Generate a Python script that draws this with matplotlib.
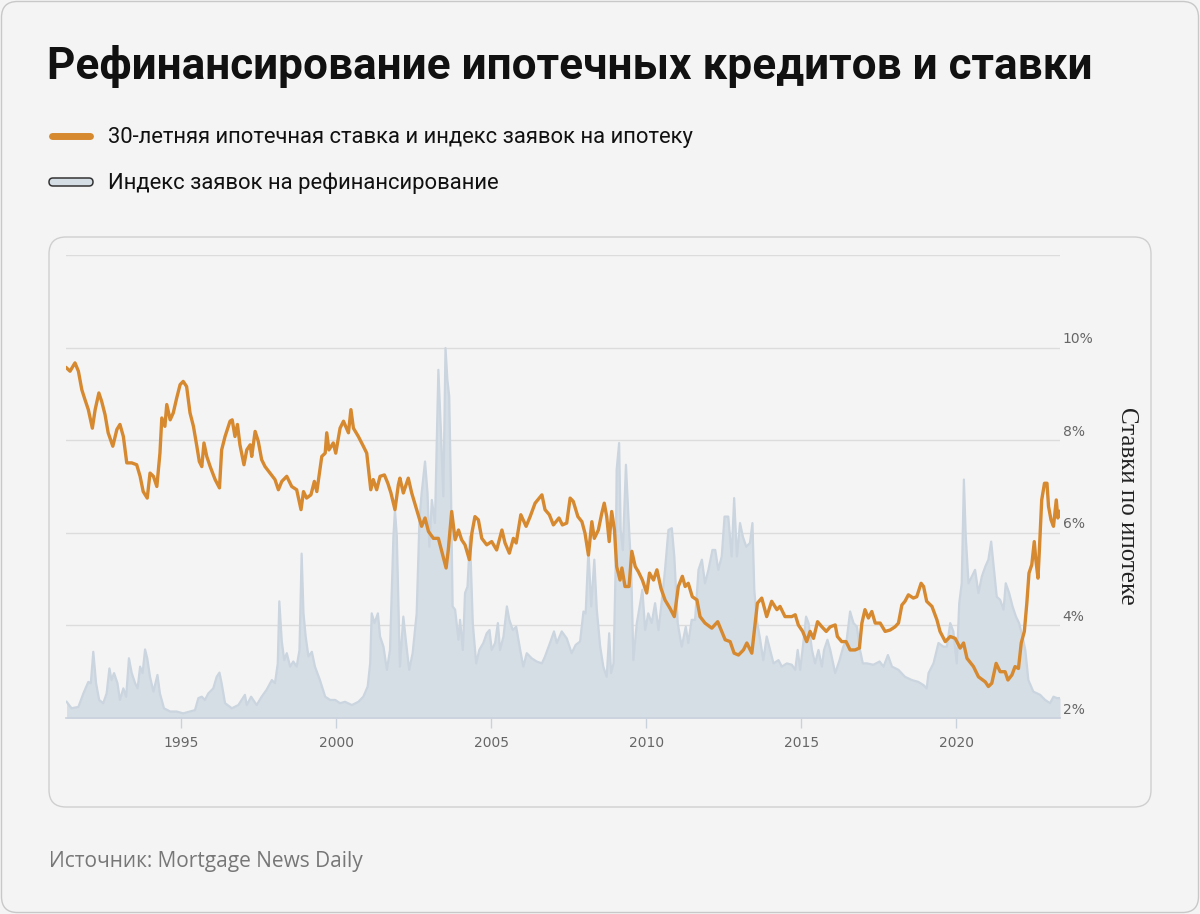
import matplotlib
matplotlib.use("Agg")
import matplotlib.pyplot as plt
import matplotlib.transforms as mtransforms
from matplotlib.patches import FancyBboxPatch
from matplotlib.lines import Line2D

# 30-летняя ставка (%)
rate_years = [1991.31, 1991.42, 1991.58, 1991.69, 1991.80, 1991.90, 1992.01, 1992.14, 1992.23, 1992.35,
              1992.44, 1992.55, 1992.65, 1992.80, 1992.93, 1993.03, 1993.14, 1993.25, 1993.41, 1993.57,
              1993.68, 1993.78, 1993.91, 1994.00, 1994.11, 1994.22, 1994.32, 1994.38, 1994.48, 1994.54,
              1994.65, 1994.75, 1994.86, 1994.97, 1995.07, 1995.18, 1995.29, 1995.40, 1995.51, 1995.59,
              1995.67, 1995.74, 1995.83, 1995.94, 1996.10, 1996.24, 1996.31, 1996.42, 1996.58, 1996.65,
              1996.74, 1996.82, 1996.90, 1997.03, 1997.12, 1997.23, 1997.28, 1997.39, 1997.49, 1997.60,
              1997.71, 1997.87, 1998.03, 1998.14, 1998.25, 1998.41, 1998.57, 1998.73, 1998.87, 1998.95,
              1999.05, 1999.19, 1999.30, 1999.38, 1999.54, 1999.65, 1999.70, 1999.77, 1999.91, 1999.99,
              2000.13, 2000.24, 2000.40, 2000.48, 2000.56, 2000.72, 2000.88, 2000.99, 2001.12, 2001.20,
              2001.31, 2001.42, 2001.56, 2001.67, 2001.77, 2001.90, 2002.01, 2002.06, 2002.17, 2002.33,
              2002.44, 2002.60, 2002.76, 2002.87, 2002.98, 2003.14, 2003.30, 2003.41, 2003.55, 2003.62,
              2003.73, 2003.84, 2003.95, 2004.05, 2004.16, 2004.30, 2004.38, 2004.48, 2004.59, 2004.70,
              2004.86, 2005.02, 2005.18, 2005.35, 2005.45, 2005.59, 2005.72, 2005.81, 2005.96, 2006.13,
              2006.26, 2006.42, 2006.64, 2006.74, 2006.88, 2007.01, 2007.19, 2007.30, 2007.44, 2007.55,
              2007.65, 2007.80, 2007.93, 2008.03, 2008.14, 2008.25, 2008.33, 2008.46, 2008.57, 2008.65,
              2008.73, 2008.81, 2008.89, 2008.98, 2009.05, 2009.16, 2009.22, 2009.32, 2009.45, 2009.54,
              2009.65, 2009.75, 2009.88, 2010.02, 2010.11, 2010.24, 2010.35, 2010.48, 2010.61, 2010.77,
              2010.91, 2011.04, 2011.17, 2011.26, 2011.36, 2011.49, 2011.64, 2011.74, 2011.90, 2012.12,
              2012.31, 2012.44, 2012.55, 2012.71, 2012.84, 2012.98, 2013.14, 2013.25, 2013.41, 2013.52,
              2013.59, 2013.73, 2013.89, 2014.05, 2014.22, 2014.32, 2014.48, 2014.70, 2014.81, 2014.91,
              2015.05, 2015.18, 2015.29, 2015.40, 2015.53, 2015.67, 2015.81, 2015.94, 2016.10, 2016.17,
              2016.31, 2016.45, 2016.58, 2016.74, 2016.88, 2016.96, 2017.06, 2017.17, 2017.28, 2017.39,
              2017.55, 2017.71, 2017.87, 2018.03, 2018.14, 2018.25, 2018.35, 2018.46, 2018.62, 2018.73,
              2018.87, 2018.95, 2019.05, 2019.22, 2019.38, 2019.48, 2019.65, 2019.81, 2019.97, 2020.13,
              2020.24, 2020.35, 2020.56, 2020.72, 2020.94, 2021.04, 2021.15, 2021.29, 2021.42, 2021.58,
              2021.67, 2021.80, 2021.90, 2022.01, 2022.10, 2022.20, 2022.28, 2022.35, 2022.44, 2022.52,
              2022.57, 2022.64, 2022.69, 2022.76, 2022.85, 2022.93, 2022.98, 2023.06, 2023.14, 2023.23,
              2023.28, 2023.35]
rate_vals = [9.56, 9.49, 9.67, 9.49, 9.09, 8.88, 8.66, 8.26, 8.66, 9.02,
             8.84, 8.55, 8.16, 7.87, 8.23, 8.34, 8.08, 7.51, 7.51, 7.47,
             7.22, 6.89, 6.75, 7.29, 7.22, 7.00, 7.72, 8.48, 8.30, 8.77,
             8.44, 8.59, 8.91, 9.20, 9.27, 9.16, 8.59, 8.30, 7.87, 7.54,
             7.43, 7.94, 7.65, 7.43, 7.15, 6.97, 7.79, 8.08, 8.41, 8.44,
             8.08, 8.34, 7.90, 7.47, 7.79, 7.90, 7.65, 8.19, 7.98, 7.58,
             7.43, 7.29, 7.15, 6.93, 7.11, 7.22, 7.00, 6.93, 6.50, 6.89,
             6.75, 6.82, 7.11, 6.89, 7.65, 7.72, 8.16, 7.79, 7.94, 7.72,
             8.26, 8.41, 8.16, 8.66, 8.26, 8.08, 7.87, 7.72, 6.93, 7.15,
             6.93, 7.22, 7.25, 7.07, 6.86, 6.50, 7.04, 7.18, 6.86, 7.18,
             6.86, 6.50, 6.14, 6.32, 6.03, 5.88, 5.88, 5.60, 5.24, 5.63,
             6.46, 5.85, 6.06, 5.85, 5.74, 5.42, 5.99, 6.35, 6.28, 5.88,
             5.74, 5.81, 5.63, 6.06, 5.78, 5.56, 5.88, 5.78, 6.39, 6.14,
             6.35, 6.64, 6.82, 6.50, 6.39, 6.17, 6.32, 6.17, 6.21, 6.75,
             6.68, 6.35, 6.24, 5.99, 5.52, 6.24, 5.88, 6.06, 6.42, 6.64,
             6.35, 5.81, 6.46, 6.06, 5.27, 4.98, 5.24, 4.84, 4.84, 5.60,
             5.27, 5.16, 4.98, 4.70, 5.13, 4.98, 5.20, 4.80, 4.55, 4.37,
             4.19, 4.84, 5.06, 4.84, 4.91, 4.62, 4.55, 4.19, 4.05, 3.94,
             4.08, 3.87, 3.69, 3.65, 3.40, 3.36, 3.47, 3.62, 3.40, 4.05,
             4.48, 4.59, 4.19, 4.52, 4.34, 4.41, 4.19, 4.19, 4.23, 4.01,
             3.87, 3.65, 3.87, 3.72, 4.08, 3.97, 3.87, 3.97, 4.01, 3.76,
             3.65, 3.65, 3.47, 3.47, 3.51, 4.05, 4.34, 4.16, 4.30, 4.05,
             4.05, 3.87, 3.90, 3.97, 4.05, 4.44, 4.52, 4.66, 4.59, 4.62,
             4.91, 4.84, 4.52, 4.41, 4.12, 3.87, 3.65, 3.76, 3.72, 3.51,
             3.62, 3.29, 3.11, 2.89, 2.78, 2.68, 2.75, 3.18, 3.00, 3.00,
             2.82, 2.93, 3.11, 3.07, 3.62, 3.87, 4.48, 5.13, 5.31, 5.81,
             5.42, 5.02, 5.70, 6.71, 7.07, 7.07, 6.57, 6.28, 6.14, 6.71,
             6.32, 6.46]

# индекс рефинансирования, в масштабе оси ставок
refi_years = [1991.31, 1991.47, 1991.69, 1991.85, 1992.01, 1992.09, 1992.17, 1992.26, 1992.36, 1992.49,
              1992.60, 1992.69, 1992.76, 1992.84, 1992.95, 1993.03, 1993.14, 1993.23, 1993.32, 1993.41,
              1993.52, 1993.60, 1993.68, 1993.76, 1993.84, 1993.91, 1994.00, 1994.11, 1994.24, 1994.32,
              1994.45, 1994.65, 1994.86, 1995.07, 1995.29, 1995.45, 1995.56, 1995.67, 1995.77, 1995.88,
              1996.04, 1996.15, 1996.24, 1996.31, 1996.42, 1996.64, 1996.85, 1997.06, 1997.12, 1997.26,
              1997.44, 1997.60, 1997.76, 1997.93, 1998.03, 1998.12, 1998.17, 1998.25, 1998.33, 1998.41,
              1998.52, 1998.62, 1998.73, 1998.82, 1998.89, 1998.95, 1999.02, 1999.11, 1999.22, 1999.32,
              1999.48, 1999.65, 1999.81, 1999.97, 2000.13, 2000.29, 2000.51, 2000.72, 2000.88, 2001.02,
              2001.10, 2001.15, 2001.24, 2001.35, 2001.42, 2001.53, 2001.64, 2001.74, 2001.85, 2001.90,
              2001.96, 2002.06, 2002.17, 2002.26, 2002.36, 2002.47, 2002.60, 2002.69, 2002.76, 2002.87,
              2002.95, 2003.01, 2003.09, 2003.19, 2003.30, 2003.38, 2003.46, 2003.53, 2003.59, 2003.65,
              2003.71, 2003.76, 2003.84, 2003.95, 2004.00, 2004.09, 2004.16, 2004.24, 2004.32, 2004.41,
              2004.52, 2004.62, 2004.75, 2004.86, 2004.95, 2005.02, 2005.13, 2005.22, 2005.29, 2005.40,
              2005.51, 2005.59, 2005.70, 2005.81, 2005.94, 2006.04, 2006.15, 2006.31, 2006.47, 2006.64,
              2006.74, 2006.90, 2007.03, 2007.12, 2007.28, 2007.44, 2007.60, 2007.73, 2007.87, 2007.98,
              2008.05, 2008.14, 2008.23, 2008.33, 2008.41, 2008.52, 2008.62, 2008.73, 2008.81, 2008.87,
              2008.95, 2009.02, 2009.05, 2009.13, 2009.18, 2009.25, 2009.35, 2009.43, 2009.52, 2009.59,
              2009.70, 2009.81, 2009.88, 2009.97, 2010.07, 2010.18, 2010.29, 2010.40, 2010.51, 2010.61,
              2010.72, 2010.83, 2010.91, 2011.02, 2011.15, 2011.28, 2011.36, 2011.47, 2011.58, 2011.69,
              2011.80, 2011.90, 2012.01, 2012.14, 2012.23, 2012.33, 2012.44, 2012.53, 2012.65, 2012.76,
              2012.84, 2012.93, 2013.03, 2013.12, 2013.23, 2013.35, 2013.43, 2013.49, 2013.57, 2013.68,
              2013.78, 2013.89, 2014.00, 2014.11, 2014.27, 2014.38, 2014.54, 2014.70, 2014.81, 2014.89,
              2014.97, 2015.07, 2015.16, 2015.24, 2015.35, 2015.45, 2015.56, 2015.67, 2015.74, 2015.85,
              2015.94, 2016.10, 2016.24, 2016.36, 2016.47, 2016.58, 2016.69, 2016.80, 2016.90, 2016.99,
              2017.12, 2017.33, 2017.53, 2017.66, 2017.80, 2017.93, 2018.14, 2018.35, 2018.57, 2018.78,
              2018.95, 2019.05, 2019.11, 2019.27, 2019.43, 2019.59, 2019.70, 2019.81, 2019.91, 2020.02,
              2020.10, 2020.18, 2020.25, 2020.31, 2020.40, 2020.51, 2020.61, 2020.72, 2020.83, 2020.94,
              2021.04, 2021.13, 2021.20, 2021.31, 2021.42, 2021.53, 2021.60, 2021.71, 2021.82, 2021.93,
              2022.03, 2022.14, 2022.23, 2022.33, 2022.49, 2022.71, 2022.87, 2023.03, 2023.14, 2023.25,
              2023.35]
refi_vals = [2.35, 2.21, 2.24, 2.53, 2.78, 2.75, 3.43, 2.75, 2.39, 2.32,
             2.53, 3.07, 2.82, 2.97, 2.75, 2.39, 2.64, 2.46, 3.29, 2.97,
             2.75, 2.64, 3.11, 2.97, 3.48, 3.29, 2.89, 2.57, 2.93, 2.53,
             2.21, 2.14, 2.14, 2.10, 2.14, 2.17, 2.43, 2.46, 2.39, 2.53,
             2.64, 2.89, 2.98, 2.75, 2.32, 2.21, 2.28, 2.50, 2.28, 2.46,
             2.28, 2.46, 2.61, 2.82, 2.75, 3.18, 4.52, 3.65, 3.25, 3.40,
             3.11, 3.22, 3.11, 3.47, 5.55, 4.26, 3.76, 3.33, 3.43, 3.11,
             2.82, 2.46, 2.39, 2.39, 2.32, 2.35, 2.28, 2.35, 2.46, 2.68,
             3.18, 4.26, 4.05, 4.26, 3.76, 3.54, 3.04, 3.47, 5.92, 6.50,
             5.92, 3.11, 4.19, 3.62, 3.04, 3.40, 4.26, 6.28, 6.86, 7.54,
             6.86, 5.70, 6.71, 6.21, 9.52, 8.23, 6.79, 9.99, 9.31, 8.95,
             6.79, 4.41, 4.34, 3.69, 4.12, 3.47, 4.70, 4.84, 5.92, 4.05,
             3.18, 3.47, 3.62, 3.83, 3.90, 3.47, 3.62, 4.05, 3.47, 3.76,
             4.41, 4.12, 3.90, 3.97, 3.47, 3.11, 3.40, 3.29, 3.22, 3.18,
             3.33, 3.62, 3.87, 3.62, 3.87, 3.72, 3.40, 3.58, 3.65, 4.30,
             4.26, 5.63, 4.41, 5.42, 4.34, 3.54, 3.11, 2.89, 3.83, 2.97,
             3.18, 5.34, 7.36, 7.94, 6.06, 5.63, 7.47, 6.35, 5.20, 3.25,
             4.05, 4.48, 4.77, 3.90, 4.26, 4.05, 4.48, 3.90, 4.55, 5.20,
             6.06, 6.10, 5.49, 4.05, 3.54, 3.97, 3.62, 4.12, 4.12, 5.20,
             5.42, 4.91, 5.20, 5.63, 5.63, 5.20, 5.49, 6.35, 6.35, 5.49,
             6.75, 5.49, 6.21, 5.92, 5.70, 5.78, 6.21, 4.77, 4.12, 3.69,
             3.25, 3.76, 3.47, 3.18, 3.25, 3.11, 3.18, 3.15, 3.04, 3.47,
             3.04, 3.62, 4.19, 4.05, 3.47, 3.18, 3.47, 3.11, 3.47, 3.69,
             3.47, 2.97, 3.25, 3.54, 3.69, 4.30, 4.05, 3.97, 3.47, 3.18,
             3.18, 3.15, 3.22, 3.11, 3.36, 3.11, 3.04, 2.89, 2.82, 2.78,
             2.71, 2.64, 2.97, 3.18, 3.62, 3.54, 3.54, 4.05, 3.87, 3.18,
             4.48, 4.91, 7.15, 5.92, 4.91, 5.06, 5.20, 4.70, 5.06, 5.27,
             5.42, 5.81, 5.34, 4.62, 4.55, 4.34, 4.91, 4.70, 4.41, 4.19,
             4.05, 3.76, 3.47, 2.82, 2.57, 2.50, 2.39, 2.32, 2.46, 2.43,
             2.43]

year_ticks = [1995, 2000, 2005, 2010, 2015, 2020]
pct_ticks = [2, 4, 6, 8, 10, 12]
pct_labels = ['2%', '4%', '6%', '8%', '10%', '']

title = 'Рефинансирование ипотечных кредитов и ставки'
legend_rate = '30-летняя ипотечная ставка и индекс заявок на ипотеку'
legend_refi = 'Индекс заявок на рефинансирование'
ylabel = 'Ставки по ипотеке'
source = 'Источник: Mortgage News Daily'

W, H = 1200, 914
bg = '#f4f4f4'
orange = '#d6892f'
refi_fill = '#d5dde5'
refi_edge = '#cbd5df'


def fx(x):
    return x / W


def fy(y):
    return 1 - y / H


fig = plt.figure(figsize=(W / 100, H / 100), dpi=100, facecolor=bg)

# рамки
outer = FancyBboxPatch((0.015, 0.015), 11.97, 9.11, boxstyle='round,pad=0,rounding_size=0.16',
                       transform=fig.dpi_scale_trans, facecolor=bg, edgecolor='#c8c8c8', lw=1, zorder=-10)
panel = FancyBboxPatch((0.49, (H - 807) / 100), 11.02, 5.70, boxstyle='round,pad=0,rounding_size=0.17',
                       transform=fig.dpi_scale_trans, facecolor=bg, edgecolor='#cfcfcf', lw=1, zorder=-9)
fig.patches.extend([outer, panel])

ax = fig.add_axes([fx(66), fy(718), fx(1060) - fx(66), fy(255) - fy(718)])
ax.set_facecolor('none')

ax.fill_between(refi_years, 2, refi_vals, color=refi_fill, lw=0, zorder=2)
ax.plot(refi_years, refi_vals, color=refi_edge, lw=1.6, zorder=2.5)
ax.plot(rate_years, rate_vals, color=orange, lw=2.4, zorder=3, solid_joinstyle='round')

ax.set_xlim(1991.29, 2023.35)
ax.set_ylim(2, 12)
ax.set_xticks(year_ticks)
ax.set_xticklabels([str(y) for y in year_ticks])
ax.set_yticks(pct_ticks)
ax.set_yticklabels(pct_labels)
ax.yaxis.tick_right()
ax.grid(axis='y', color='#dcdcdc', lw=1, zorder=1)
ax.set_axisbelow(True)

for s in ['top', 'left', 'right']:
    ax.spines[s].set_visible(False)
ax.spines['bottom'].set_color('#c9d1dd')
ax.spines['bottom'].set_linewidth(1.2)
ax.spines['bottom'].set_zorder(4)

ax.tick_params(axis='x', length=7, width=1, color='#c9d1dd', pad=6, labelsize=10, labelcolor='#666666')
ax.tick_params(axis='y', length=0, pad=2, labelsize=10, labelcolor='#666666')
shift = mtransforms.ScaledTranslation(0, 0.10, fig.dpi_scale_trans)
for lab in ax.get_yticklabels():
    lab.set_transform(lab.get_transform() + shift)

fig.text(fx(1127), fy(506), ylabel, rotation=-90, ha='center', va='center',
         family='Liberation Serif', fontsize=18, color='#222222')

# заголовок и легенда
fig.text(fx(47), fy(67), title, ha='left', va='center', family='Roboto', weight='bold',
         fontsize=31.8, color='#111111')

fig.add_artist(Line2D([fx(52), fx(90)], [fy(136), fy(136)], color=orange, lw=5,
                      solid_capstyle='round'))
fig.text(fx(108), fy(137), legend_rate, ha='left', va='center', family='Roboto',
         fontsize=15.8, color='#111111')

key = FancyBboxPatch((0.49, (H - 186) / 100), 0.44, 0.08, boxstyle='round,pad=0,rounding_size=0.04',
                     transform=fig.dpi_scale_trans, facecolor=refi_fill, edgecolor='#333333', lw=1.1)
fig.patches.append(key)
fig.text(fx(108), fy(183), legend_refi, ha='left', va='center', family='Roboto',
         fontsize=15.8, color='#111111')

fig.text(fx(49), fy(861), source, ha='left', va='center', family='Open Sans',
         fontsize=15, color='#777777')

fig.savefig('out.png', dpi=100, facecolor=bg)
